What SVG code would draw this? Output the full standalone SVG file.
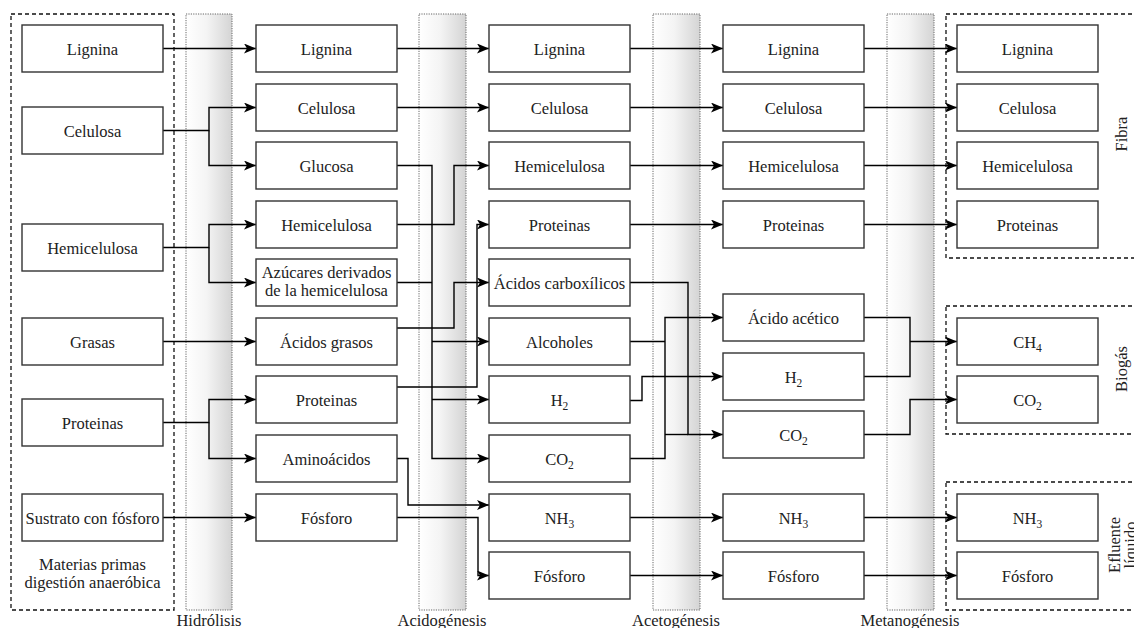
<svg xmlns="http://www.w3.org/2000/svg" width="1134" height="628" viewBox="0 0 1134 628" font-family="'Liberation Serif', 'Times New Roman', serif">
<defs>
<linearGradient id="bandGrad" x1="0" y1="0" x2="1" y2="0">
<stop offset="0" stop-color="#ffffff"/>
<stop offset="0.45" stop-color="#f4f4f4"/>
<stop offset="1" stop-color="#d4d4d4"/>
</linearGradient>
<marker id="arr" markerUnits="userSpaceOnUse" markerWidth="12" markerHeight="10" viewBox="0 0 12 10" refX="12" refY="5" orient="auto">
<path d="M0,0 L12,5 L0,10 L3,5 z" fill="#000"/>
</marker>
</defs>
<style>
.box{fill:#fff;stroke:#333;stroke-width:1.4}
.t{font-family:'Liberation Serif','Times New Roman',serif;font-size:16.5px;fill:#222;text-anchor:middle}
.band{fill:url(#bandGrad);stroke:#666;stroke-width:1;stroke-dasharray:1.2 1.2}
.frame{fill:none;stroke:#111;stroke-width:1.3;stroke-dasharray:4 3}
.c{fill:none;stroke:#000;stroke-width:1.4}
.a{marker-end:url(#arr)}
.sub{font-size:11.5px}
</style>
<rect width="1134" height="628" fill="#fff"/>

<g id="frames">
<rect class="frame" x="11" y="14" width="163" height="596"/>
<rect class="frame" x="946" y="14" width="200" height="244"/>
<rect class="frame" x="946" y="306" width="200" height="128"/>
<rect class="frame" x="946" y="482" width="200" height="128"/>
</g>

<g id="bands">
<rect class="band" x="186" y="14" width="46" height="596"/>
<rect class="band" x="419" y="14" width="47" height="596"/>
<rect class="band" x="653" y="14" width="47" height="596"/>
<rect class="band" x="887" y="14" width="47" height="596"/>
<text class="t" x="209" y="626" font-family="Liberation Serif">Hidrólisis</text>
<text class="t" x="442" y="626" font-family="Liberation Serif">Acidogénesis</text>
<text class="t" x="676" y="626" font-family="Liberation Serif">Acetogénesis</text>
<text class="t" x="910" y="626" font-family="Liberation Serif">Metanogénesis</text>
</g>

<g id="connectors">
<path class="c a" d="M163,48.5 H256"/>
<path class="c a" d="M163,130.5 H209 V107.5 H256"/>
<path class="c a" d="M209,130.5 V165.5 H256"/>
<path class="c a" d="M163,247.5 H209 V224.5 H256"/>
<path class="c a" d="M209,247.5 V282.5 H256"/>
<path class="c a" d="M163,341.5 H256"/>
<path class="c a" d="M163,422.5 H209 V399.5 H256"/>
<path class="c a" d="M209,422.5 V458.5 H256"/>
<path class="c a" d="M163,517.5 H256"/>

<path class="c a" d="M397,48.5 H489"/>
<path class="c a" d="M397,107.5 H489"/>
<path class="c a" d="M397,165.5 H432 V458.5 H489"/>
<path class="c" d="M397,282.5 H432"/>
<path class="c a" d="M432,341.5 H489"/>
<path class="c a" d="M432,399.5 H489"/>
<path class="c a" d="M397,224.5 H454 V165.5 H489"/>
<path class="c a" d="M397,328 H454 V282.5 H489"/>
<path class="c a" d="M397,387 H477 V224.5 H489"/>
<path class="c a" d="M397,458.5 H408 V505 H489"/>
<path class="c a" d="M397,517.5 H478 V575.5 H489"/>

<path class="c a" d="M630,48.5 H723"/>
<path class="c a" d="M630,107.5 H723"/>
<path class="c a" d="M630,165.5 H723"/>
<path class="c a" d="M630,224.5 H723"/>
<path class="c a" d="M630,282.5 H688 V434.5 H723"/>
<path class="c a" d="M630,458.5 H665 V317.5 H723"/>
<path class="c" d="M630,341.5 H665"/>
<path class="c" d="M665,434.5 H688"/>
<path class="c a" d="M630,400.5 H642 V376.5 H723"/>
<path class="c a" d="M630,517.5 H723"/>
<path class="c a" d="M630,575.5 H723"/>

<path class="c a" d="M864,48.5 H957"/>
<path class="c a" d="M864,107.5 H957"/>
<path class="c a" d="M864,165.5 H957"/>
<path class="c a" d="M864,224.5 H957"/>
<path class="c" d="M864,317.5 H910 V376.5 H864"/>
<path class="c a" d="M910,341.5 H957"/>
<path class="c a" d="M864,434.5 H910 V399.5 H957"/>
<path class="c a" d="M864,517.5 H957"/>
<path class="c a" d="M864,575.5 H957"/>
</g>

<g font-family="Liberation Serif">
<!-- Column 1 -->
<g id="c1-lignina"><rect class="box" x="22" y="25" width="141" height="47"/><text class="t" x="92.5" y="54.5">Lignina</text></g>
<g id="c1-celulosa"><rect class="box" x="22" y="107" width="141" height="47"/><text class="t" x="92.5" y="136.5">Celulosa</text></g>
<g id="c1-hemicelulosa"><rect class="box" x="22" y="224" width="141" height="47"/><text class="t" x="92.5" y="253.5">Hemicelulosa</text></g>
<g id="c1-grasas"><rect class="box" x="22" y="318" width="141" height="47"/><text class="t" x="92.5" y="347.5">Grasas</text></g>
<g id="c1-proteinas"><rect class="box" x="22" y="399" width="141" height="47"/><text class="t" x="92.5" y="428.5">Proteinas</text></g>
<g id="c1-sustrato"><rect class="box" x="22" y="494" width="141" height="47"/><text class="t" x="92.5" y="523.5">Sustrato con fósforo</text></g>
<g id="c1-label"><text class="t" x="92.5" y="570">Materias primas</text><text class="t" x="92.5" y="588">digestión anaeróbica</text></g>

<!-- Column 2 -->
<g id="c2-lignina"><rect class="box" x="256" y="25" width="141" height="47"/><text class="t" x="326.5" y="54.5">Lignina</text></g>
<g id="c2-celulosa"><rect class="box" x="256" y="84" width="141" height="47"/><text class="t" x="326.5" y="113.5">Celulosa</text></g>
<g id="c2-glucosa"><rect class="box" x="256" y="142" width="141" height="47"/><text class="t" x="326.5" y="171.5">Glucosa</text></g>
<g id="c2-hemicelulosa"><rect class="box" x="256" y="201" width="141" height="47"/><text class="t" x="326.5" y="230.5">Hemicelulosa</text></g>
<g id="c2-azucares"><rect class="box" x="256" y="259" width="141" height="47"/><text class="t" x="326.5" y="278">Azúcares derivados</text><text class="t" x="326.5" y="296">de la hemicelulosa</text></g>
<g id="c2-acidosgrasos"><rect class="box" x="256" y="318" width="141" height="47"/><text class="t" x="326.5" y="347.5">Ácidos grasos</text></g>
<g id="c2-proteinas"><rect class="box" x="256" y="376" width="141" height="47"/><text class="t" x="326.5" y="405.5">Proteinas</text></g>
<g id="c2-aminoacidos"><rect class="box" x="256" y="435" width="141" height="47"/><text class="t" x="326.5" y="464.5">Aminoácidos</text></g>
<g id="c2-fosforo"><rect class="box" x="256" y="494" width="141" height="47"/><text class="t" x="326.5" y="523.5">Fósforo</text></g>

<!-- Column 3 -->
<g id="c3-lignina"><rect class="box" x="489" y="25" width="141" height="47"/><text class="t" x="559.5" y="54.5">Lignina</text></g>
<g id="c3-celulosa"><rect class="box" x="489" y="84" width="141" height="47"/><text class="t" x="559.5" y="113.5">Celulosa</text></g>
<g id="c3-hemicelulosa"><rect class="box" x="489" y="142" width="141" height="47"/><text class="t" x="559.5" y="171.5">Hemicelulosa</text></g>
<g id="c3-proteinas"><rect class="box" x="489" y="201" width="141" height="47"/><text class="t" x="559.5" y="230.5">Proteinas</text></g>
<g id="c3-carboxilicos"><rect class="box" x="489" y="259" width="141" height="47"/><text class="t" x="559.5" y="288.5">Ácidos carboxílicos</text></g>
<g id="c3-alcoholes"><rect class="box" x="489" y="318" width="141" height="47"/><text class="t" x="559.5" y="347.5">Alcoholes</text></g>
<g id="c3-h2"><rect class="box" x="489" y="376" width="141" height="47"/><text class="t" x="559.5" y="405.5">H<tspan class="sub" dy="4">2</tspan></text></g>
<g id="c3-co2"><rect class="box" x="489" y="435" width="141" height="47"/><text class="t" x="559.5" y="464.5">CO<tspan class="sub" dy="4">2</tspan></text></g>
<g id="c3-nh3"><rect class="box" x="489" y="494" width="141" height="47"/><text class="t" x="559.5" y="523.5">NH<tspan class="sub" dy="4">3</tspan></text></g>
<g id="c3-fosforo"><rect class="box" x="489" y="552" width="141" height="47"/><text class="t" x="559.5" y="581.5">Fósforo</text></g>

<!-- Column 4 -->
<g id="c4-lignina"><rect class="box" x="723" y="25" width="141" height="47"/><text class="t" x="793.5" y="54.5">Lignina</text></g>
<g id="c4-celulosa"><rect class="box" x="723" y="84" width="141" height="47"/><text class="t" x="793.5" y="113.5">Celulosa</text></g>
<g id="c4-hemicelulosa"><rect class="box" x="723" y="142" width="141" height="47"/><text class="t" x="793.5" y="171.5">Hemicelulosa</text></g>
<g id="c4-proteinas"><rect class="box" x="723" y="201" width="141" height="47"/><text class="t" x="793.5" y="230.5">Proteinas</text></g>
<g id="c4-acetico"><rect class="box" x="723" y="294" width="141" height="47"/><text class="t" x="793.5" y="323.5">Ácido acético</text></g>
<g id="c4-h2"><rect class="box" x="723" y="353" width="141" height="47"/><text class="t" x="793.5" y="382.5">H<tspan class="sub" dy="4">2</tspan></text></g>
<g id="c4-co2"><rect class="box" x="723" y="411" width="141" height="47"/><text class="t" x="793.5" y="440.5">CO<tspan class="sub" dy="4">2</tspan></text></g>
<g id="c4-nh3"><rect class="box" x="723" y="494" width="141" height="47"/><text class="t" x="793.5" y="523.5">NH<tspan class="sub" dy="4">3</tspan></text></g>
<g id="c4-fosforo"><rect class="box" x="723" y="552" width="141" height="47"/><text class="t" x="793.5" y="581.5">Fósforo</text></g>

<!-- Column 5 -->
<g id="c5-lignina"><rect class="box" x="957" y="25" width="141" height="47"/><text class="t" x="1027.5" y="54.5">Lignina</text></g>
<g id="c5-celulosa"><rect class="box" x="957" y="84" width="141" height="47"/><text class="t" x="1027.5" y="113.5">Celulosa</text></g>
<g id="c5-hemicelulosa"><rect class="box" x="957" y="142" width="141" height="47"/><text class="t" x="1027.5" y="171.5">Hemicelulosa</text></g>
<g id="c5-proteinas"><rect class="box" x="957" y="201" width="141" height="47"/><text class="t" x="1027.5" y="230.5">Proteinas</text></g>
<g id="c5-ch4"><rect class="box" x="957" y="318" width="141" height="47"/><text class="t" x="1027.5" y="347.5">CH<tspan class="sub" dy="4">4</tspan></text></g>
<g id="c5-co2"><rect class="box" x="957" y="376" width="141" height="47"/><text class="t" x="1027.5" y="405.5">CO<tspan class="sub" dy="4">2</tspan></text></g>
<g id="c5-nh3"><rect class="box" x="957" y="494" width="141" height="47"/><text class="t" x="1027.5" y="523.5">NH<tspan class="sub" dy="4">3</tspan></text></g>
<g id="c5-fosforo"><rect class="box" x="957" y="552" width="141" height="47"/><text class="t" x="1027.5" y="581.5">Fósforo</text></g>

<g id="group-labels">
<text class="t" transform="translate(1127,134) rotate(-90)">Fibra</text>
<text class="t" transform="translate(1127,369) rotate(-90)">Biogás</text>
<text class="t" transform="translate(1120,545) rotate(-90)">Efluente</text>
<text class="t" transform="translate(1136,545) rotate(-90)">líquido</text>
</g>
</g>
</svg>
